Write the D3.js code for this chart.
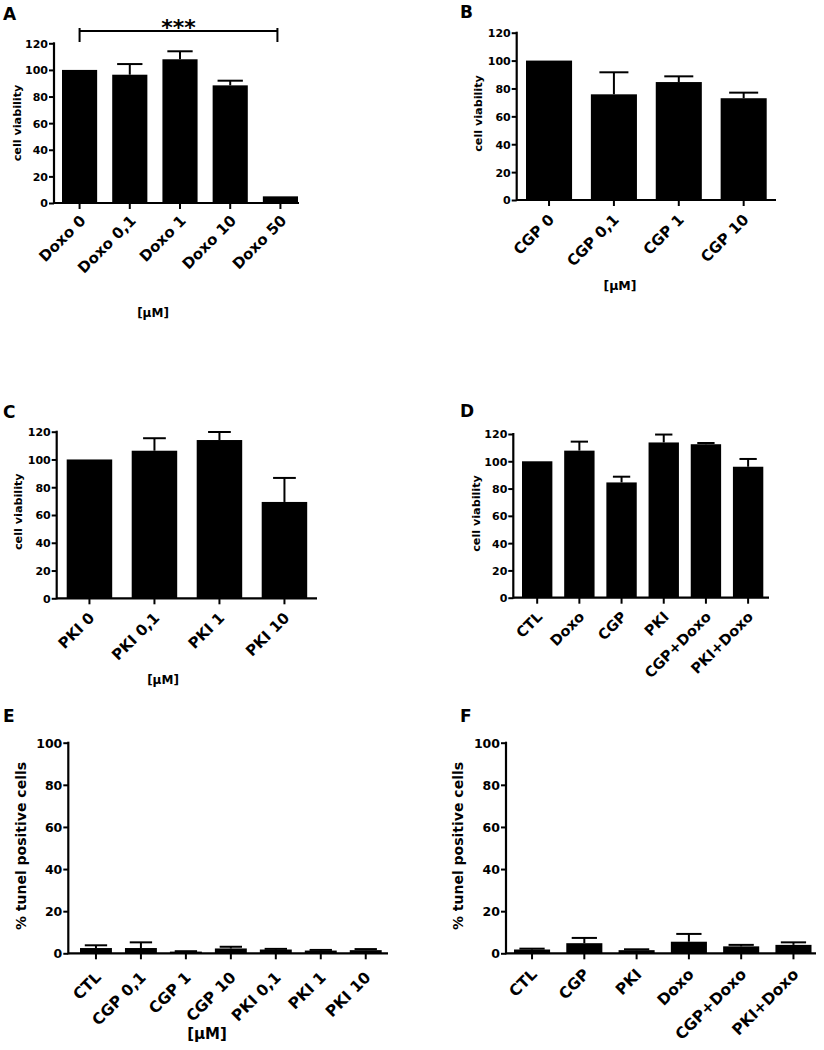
<!DOCTYPE html>
<html><head><meta charset="utf-8">
<script src="https://cdn.jsdelivr.net/npm/d3@7"></script>
<style>
body{margin:0;background:#fff;}
text{font-family:"DejaVu Sans",Verdana,sans-serif;font-weight:bold;fill:#000;}
</style></head>
<body><svg id="chart" width="824" height="1050"></svg>
<script>
// ---- data ----
const viabilityTicks = [0, 20, 40, 60, 80, 100, 120];
const tunelTicks = [0, 20, 40, 60, 80, 100];

const catsA = ["Doxo 0", "Doxo 0,1", "Doxo 1", "Doxo 10", "Doxo 50"];
const valsA = [100, 96.4, 108, 88.4, 5];
const sdA   = [0, 8, 6, 3.5, 0];

const catsB = ["CGP 0", "CGP 0,1", "CGP 1", "CGP 10"];
const valsB = [100, 75.8, 84.6, 73];
const sdB   = [0, 15.8, 4.1, 4];

const catsC = ["PKI 0", "PKI 0,1", "PKI 1", "PKI 10"];
const valsC = [100, 106.3, 114, 69.4];
const sdC   = [0, 9, 5.8, 17.3];

const catsD = ["CTL", "Doxo", "CGP", "PKI", "CGP+Doxo", "PKI+Doxo"];
const valsD = [100, 107.8, 84.5, 113.8, 112.5, 96];
const sdD   = [0, 6.6, 4.2, 5.8, 0.9, 5.7];

const catsE = ["CTL", "CGP 0,1", "CGP 1", "CGP 10", "PKI 0,1", "PKI 1", "PKI 10"];
const valsE = [2.5, 2.5, 0.8, 2.3, 1.8, 1.3, 1.5];
const sdE   = [1.3, 2.7, 0.2, 0.8, 0.3, 0.3, 0.5];

const catsF = ["CTL", "CGP", "PKI", "Doxo", "CGP+Doxo", "PKI+Doxo"];
const valsF = [1.8, 4.8, 1.5, 5.5, 3.3, 4];
const sdF   = [0.4, 2.5, 0.4, 3.7, 0.7, 1.2];

const svg = d3.select("#chart");

function panel(o) {
  const g = svg.append("g");
  const y = d3.scaleLinear().domain([0, o.ymax]).range([o.y0, o.ytop]);
  const x = d3.scaleBand().domain(o.cats).range([o.b0, o.b1]).paddingInner(o.pin).paddingOuter(0);
  const data = o.cats.map((c, i) => ({c, v: o.vals[i], sd: o.sd[i]}));
  const bw = x.bandwidth();
  // error bars (upper only)
  const eb = g.append("g").attr("stroke", "#000").attr("stroke-width", 2);
  data.filter(d => d.sd > 0).forEach(d => {
    const cx = x(d.c) + bw / 2, cw = bw * o.cap / 2;
    eb.append("line").attr("x1", cx).attr("x2", cx).attr("y1", y(d.v)).attr("y2", y(d.v + d.sd));
    eb.append("line").attr("x1", cx - cw).attr("x2", cx + cw).attr("y1", y(d.v + d.sd)).attr("y2", y(d.v + d.sd));
  });
  // bars
  g.append("g").selectAll("rect").data(data).join("rect")
    .attr("x", d => x(d.c)).attr("width", bw)
    .attr("y", d => y(d.v)).attr("height", d => o.y0 - y(d.v))
    .attr("fill", "#000");
  // y axis
  const ya = g.append("g").attr("transform", `translate(${o.ax},0)`)
    .call(d3.axisLeft(y).tickValues(o.ticks).tickSize(5).tickPadding(1).tickFormat(d3.format("d")));
  ya.select(".domain").remove();
  ya.selectAll(".tick line").attr("stroke", "#000").attr("stroke-width", 2);
  ya.selectAll(".tick text").attr("font-size", o.tfs).attr("font-family", null).attr("dy", "0.36em");
  g.append("line").attr("x1", o.ax).attr("x2", o.ax).attr("y1", y(o.ymax) - 1).attr("y2", o.y0 + 1)
    .attr("stroke", "#000").attr("stroke-width", 2.2);
  // x axis
  g.append("line").attr("x1", o.ax).attr("x2", o.axEnd).attr("y1", o.y0).attr("y2", o.y0)
    .attr("stroke", "#000").attr("stroke-width", 2.2);
  const xa = g.append("g").attr("transform", `translate(0,${o.y0})`)
    .call(d3.axisBottom(x).tickSize(6).tickFormat(""));
  xa.select(".domain").remove();
  xa.selectAll(".tick line").attr("stroke", "#000").attr("stroke-width", 2);
  g.append("g").selectAll("text").data(o.cats).join("text")
    .attr("transform", c => `translate(${x(c) + bw / 2 + o.ldx},${o.y0 + o.ldy}) rotate(-45)`)
    .attr("text-anchor", "end").attr("font-size", o.xfs).text(c => c);
  // y label
  g.append("text").attr("transform", `translate(${o.ylx},${o.yly}) rotate(-90)`)
    .attr("text-anchor", "middle").attr("font-size", o.yfs).text(o.ylabel);
  // unit label
  if (o.unit) g.append("text").attr("x", o.unit[0]).attr("y", o.unit[1]).attr("text-anchor", "middle")
    .attr("font-size", o.unit[2]).text("[μM]");
  // panel letter
  g.append("text").attr("x", o.letter[0]).attr("y", o.letter[1]).attr("font-size", 17).text(o.letter[2]);
  return {x, y, g};
}

const A = panel({cats: catsA, vals: valsA, sd: sdA, ymax: 120, ticks: viabilityTicks,
  y0: 203, ytop: 43.3, ax: 54, axEnd: 299, b0: 62, b1: 298, pin: 0.3, cap: 0.72,
  tfs: 11, xfs: 15, ldx: 7, ldy: 18.5, ylx: 20.5, yly: 123, yfs: 11.2, ylabel: "cell viability",
  unit: [153, 316.5, 12], letter: [3, 20, "A"]});
// significance bracket
{
  const xl = A.x("Doxo 0") + A.x.bandwidth() / 2, xr = A.x("Doxo 50") + A.x.bandwidth() / 2 - 3;
  const by = 31;
  A.g.append("path").attr("d", `M${xl},${by - 3}V${by + 11}M${xl},${by}H${xr}M${xr},${by - 3}V${by + 11}`)
    .attr("stroke", "#000").attr("stroke-width", 2).attr("fill", "none");
  A.g.append("text").attr("x", (xl + xr) / 2).attr("y", 35).attr("text-anchor", "middle")
    .attr("font-size", 22).text("***");
}

panel({cats: catsB, vals: valsB, sd: sdB, ymax: 120, ticks: viabilityTicks,
  y0: 200, ytop: 32.7, ax: 516.7, axEnd: 776, b0: 526, b1: 766.7, pin: 0.29, cap: 0.63,
  tfs: 11, xfs: 15, ldx: 6, ldy: 20.5, ylx: 482, yly: 113.5, yfs: 11.2, ylabel: "cell viability",
  unit: [620, 289.5, 12.5], letter: [460, 18, "B"]});

panel({cats: catsC, vals: valsC, sd: sdC, ymax: 120, ticks: viabilityTicks,
  y0: 598.3, ytop: 431.7, ax: 56.7, axEnd: 317, b0: 66.7, b1: 307.2, pin: 0.3, cap: 0.5,
  tfs: 11, xfs: 15, ldx: 6, ldy: 20.5, ylx: 21.5, yly: 511.7, yfs: 11.2, ylabel: "cell viability",
  unit: [163, 683.5, 12], letter: [3, 418, "C"]});

panel({cats: catsD, vals: valsD, sd: sdD, ymax: 120, ticks: viabilityTicks,
  y0: 597.7, ytop: 434, ax: 513.3, axEnd: 769, b0: 522, b1: 763.3, pin: 0.28, cap: 0.57,
  tfs: 11, xfs: 14.5, ldx: 6, ldy: 20, ylx: 480, yly: 513.5, yfs: 11.2, ylabel: "cell viability",
  unit: null, letter: [460, 417, "D"]});

panel({cats: catsE, vals: valsE, sd: sdE, ymax: 100, ticks: tunelTicks,
  y0: 953.3, ytop: 742.7, ax: 68.3, axEnd: 388, b0: 80, b1: 381.7, pin: 0.29, cap: 0.7,
  tfs: 12.5, xfs: 15.5, ldx: 6, ldy: 25, ylx: 26, yly: 846, yfs: 14, ylabel: "% tunel positive cells",
  unit: [207, 1039, 15], letter: [3, 722, "E"]});

panel({cats: catsF, vals: valsF, sd: sdF, ymax: 100, ticks: tunelTicks,
  y0: 953.3, ytop: 742.7, ax: 506, axEnd: 816, b0: 514, b1: 811.5, pin: 0.31, cap: 0.7,
  tfs: 12.5, xfs: 15.5, ldx: 6, ldy: 22, ylx: 463, yly: 846, yfs: 14, ylabel: "% tunel positive cells",
  unit: null, letter: [460, 722, "F"]});
</script></body></html>
